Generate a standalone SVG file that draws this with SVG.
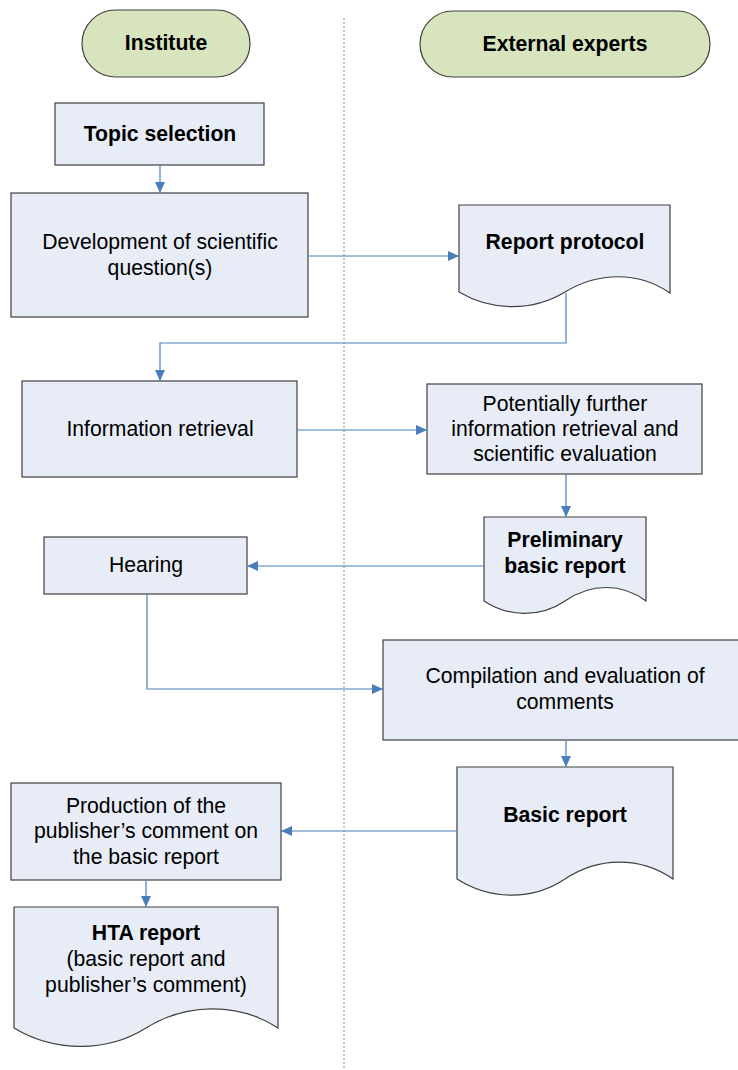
<svg xmlns="http://www.w3.org/2000/svg" width="738" height="1070" viewBox="0 0 738 1070">
  <style>
    .term { fill: #d7e4bd; stroke: #404040; stroke-width: 1.2; }
    .box { fill: #e7ecf7; stroke: #404040; stroke-width: 1.2; }
    .conn { fill: none; stroke: #4a7ebb; stroke-width: 1.2; marker-end: url(#arrow); }
    .lane { stroke: #8c8c8c; stroke-width: 1; stroke-dasharray: 2 2; }
    text { font-family: "Liberation Sans", Arial, sans-serif; font-size: 21.2px; fill: #000; text-anchor: middle; }
    .b { font-weight: bold; }
  </style>
  <defs>
    <marker id="arrow" markerUnits="userSpaceOnUse" markerWidth="12" markerHeight="10" refX="11" refY="5" orient="auto">
      <path d="M0,0 L11,5 L0,10 Z" fill="#4a7ebb"/>
    </marker>
  </defs>

  <!-- swimlane divider -->
  <line class="lane" x1="344" y1="18" x2="344" y2="1070"/>

  <g id="lane-institute">
    <rect class="term" x="82" y="10" width="168" height="67" rx="33.5"/>
    <text class="b" x="166" y="50">Institute</text>
  </g>
  <g id="lane-external">
    <rect class="term" x="420" y="11" width="290" height="66" rx="33"/>
    <text class="b" x="565" y="51">External experts</text>
  </g>

  <g id="topic-selection">
    <rect class="box" x="55" y="103" width="209" height="62"/>
    <text class="b" x="160" y="141">Topic selection</text>
  </g>

  <g id="scientific-question">
    <rect class="box" x="11" y="193" width="297" height="124"/>
    <text x="160" y="249">Development of scientific</text>
    <text x="160" y="275">question(s)</text>
  </g>

  <g id="report-protocol">
    <path class="box" d="M459,205 H670 V293 C638,271 598,272 565,292 C532,312 491,311 459,292 Z"/>
    <text class="b" x="565" y="249">Report protocol</text>
  </g>

  <g id="information-retrieval">
    <rect class="box" x="22" y="381" width="275" height="96"/>
    <text x="160" y="436">Information retrieval</text>
  </g>

  <g id="further-retrieval">
    <rect class="box" x="427" y="384" width="275" height="90"/>
    <text x="565" y="411">Potentially further</text>
    <text x="565" y="436">information retrieval and</text>
    <text x="565" y="461">scientific evaluation</text>
  </g>

  <g id="preliminary-report">
    <path class="box" d="M484,517 H646 V601 C622,583 591,583 565,601 C540,618 508,617 484,601 Z"/>
    <text class="b" x="565" y="547">Preliminary</text>
    <text class="b" x="565" y="573">basic report</text>
  </g>

  <g id="hearing">
    <rect class="box" x="44" y="537" width="203" height="57"/>
    <text x="146" y="572">Hearing</text>
  </g>

  <g id="compilation">
    <rect class="box" x="383" y="640" width="370" height="100"/>
    <text x="565" y="683">Compilation and evaluation of</text>
    <text x="565" y="709">comments</text>
  </g>

  <g id="basic-report">
    <path class="box" d="M457,767 H673 V879 C640,856 598,857 565,879 C532,901 490,900 457,879 Z"/>
    <text class="b" x="565" y="822">Basic report</text>
  </g>

  <g id="publisher-comment">
    <rect class="box" x="11" y="783" width="270" height="97"/>
    <text x="146" y="813">Production of the</text>
    <text x="146" y="838">publisher’s comment on</text>
    <text x="146" y="864">the basic report</text>
  </g>

  <g id="hta-report">
    <path class="box" d="M14,907 H278 V1028 C238,1002 186,1003 146,1028 C106,1053 54,1052 14,1028 Z"/>
    <text class="b" x="146" y="940">HTA report</text>
    <text x="146" y="966">(basic report and</text>
    <text x="146" y="992">publisher’s comment)</text>
  </g>

  <g id="connectors">
    <path class="conn" d="M160,165 V193"/>
    <path class="conn" d="M308,256 H459"/>
    <path class="conn" d="M566,293 V343 H160 V381"/>
    <path class="conn" d="M297,430 H427"/>
    <path class="conn" d="M566,474 V517"/>
    <path class="conn" d="M484,566 H247"/>
    <path class="conn" d="M147,594 V689 H383"/>
    <path class="conn" d="M566,740 V767"/>
    <path class="conn" d="M457,831 H281"/>
    <path class="conn" d="M146,880 V907"/>
  </g>
</svg>
